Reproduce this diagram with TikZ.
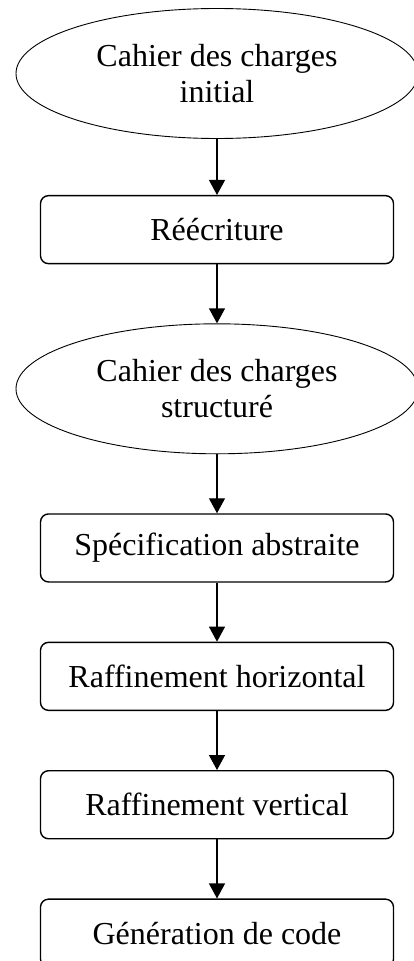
\documentclass[tikz,border=0pt]{standalone}
\usepackage{fontspec}
\setmainfont{Liberation Serif}
\usepackage{tikz}
\usetikzlibrary{shapes.geometric, arrows.meta}
\usetikzlibrary{positioning}

\begin{document}
\begin{tikzpicture}[
ovalnode/.style={ellipse, draw, line width=0.9pt, minimum width=402pt, minimum height=130pt, inner sep=0pt, align=center, font=\fontsize{32pt}{36pt}\selectfont},
boxnode/.style={rectangle, rounded corners=8pt, draw, line width=1.4pt, minimum width=353pt, minimum height=68pt, inner sep=0pt, font=\fontsize{32pt}{36pt}\selectfont},
node distance=59pt,
>={Triangle[length=15pt, width=16pt]},
every path/.style={line width=1.3pt},
]
\useasboundingbox (0pt,0pt) rectangle (414pt,-961pt);
%Nodes
\node[ovalnode]   (initial)    at (217pt,-73.5pt)     {Cahier des charges\\initial};
\node[boxnode]    (rewrite)    [below=56pt of initial] {Réécriture};
\node[ovalnode]   (structured) [below=of rewrite]     {Cahier des charges\\structuré};
\node[boxnode]    (abstract)   [below=of structured]  {Spécification abstraite};
\node[boxnode]    (horizontal) [below=of abstract]    {Raffinement horizontal};
\node[boxnode]    (vertical)   [below=of horizontal]  {Raffinement vertical};
\node[boxnode]    (codegen)    [below=of vertical]    {Génération de code};

%Lines
\draw[->] (initial.south) -- (rewrite.north);
\draw[->] (rewrite.south) -- (structured.north);
\draw[->] (structured.south) -- (abstract.north);
\draw[->] (abstract.south) -- (horizontal.north);
\draw[->] (horizontal.south) -- (vertical.north);
\draw[->] (vertical.south) -- (codegen.north);
\end{tikzpicture}
\end{document}
